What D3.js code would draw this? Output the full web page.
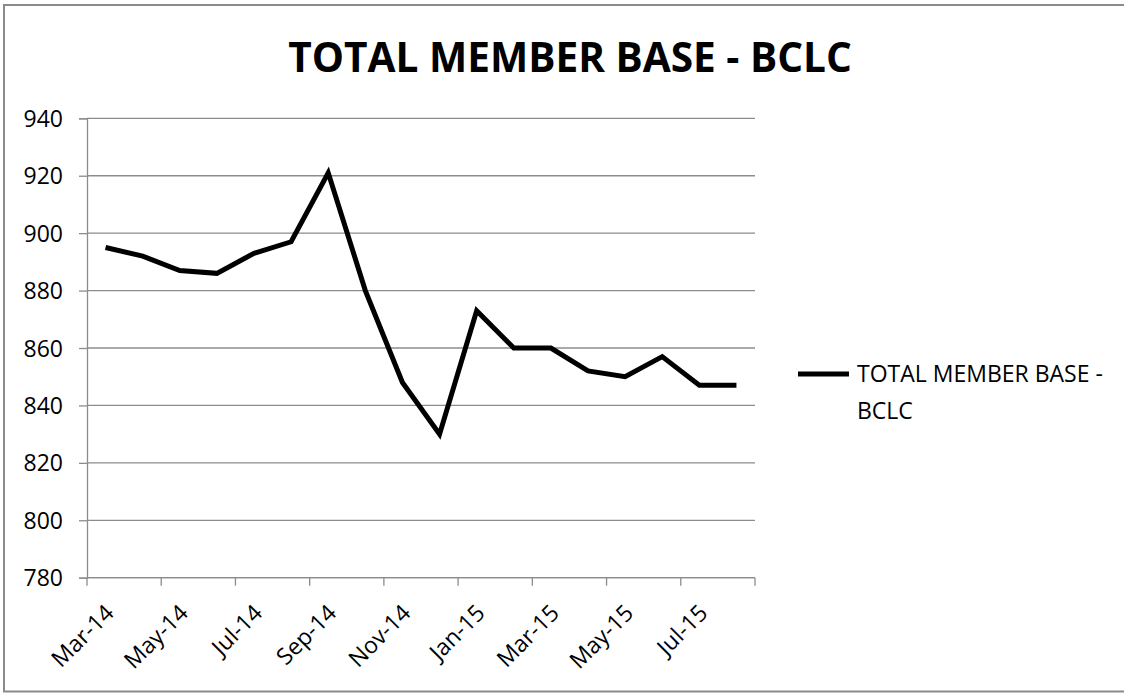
<!DOCTYPE html>
<html>
<head>
<meta charset="utf-8">
<script src="https://cdn.jsdelivr.net/npm/d3@7"></script>
<style>
  html, body { margin: 0; padding: 0; background: #fff; }
  svg { display: block; }
  text { font-family: "Open Sans", "Liberation Sans", sans-serif; fill: #000; }
</style>
</head>
<body>
<svg id="chart" width="1124" height="693"></svg>
<script>
const categories = ["Mar-14","Apr-14","May-14","Jun-14","Jul-14","Aug-14","Sep-14","Oct-14","Nov-14","Dec-14",
                    "Jan-15","Feb-15","Mar-15","Apr-15","May-15","Jun-15","Jul-15","Aug-15"];
const values = [895, 892, 887, 886, 893, 897, 921, 880, 848, 830, 873, 860, 860, 852, 850, 857, 847, 847];
const yTicks = [780, 800, 820, 840, 860, 880, 900, 920, 940];
const seriesName = "TOTAL MEMBER BASE - BCLC";
const titleText = "TOTAL MEMBER BASE - BCLC";

const svg = d3.select("#chart");
const W = 1124, H = 693;
const plot = {left: 87, right: 755, top: 118.3, bottom: 577.7};

// outer border
svg.append("rect").attr("x", 4).attr("y", 5).attr("width", W + 2).attr("height", H - 6.5)
  .attr("fill", "#fff").attr("stroke", "#8a8a8a").attr("stroke-width", 2);

const x = d3.scaleBand().domain(categories).range([plot.left, plot.right]).paddingInner(0).paddingOuter(0);
const y = d3.scaleLinear().domain([780, 940]).range([plot.bottom, plot.top]);

// gridlines
svg.append("g").selectAll("line").data(yTicks).join("line")
  .attr("x1", plot.left).attr("x2", plot.right)
  .attr("y1", d => y(d)).attr("y2", d => y(d))
  .attr("stroke", "#8c8c8c").attr("stroke-width", 1.3);

// y axis
const yAxis = svg.append("g").attr("transform", `translate(${plot.left},0)`)
  .call(d3.axisLeft(y).tickValues(yTicks).tickSize(8).tickPadding(16).tickFormat(d3.format("d")));
yAxis.select(".domain").attr("stroke", "#8c8c8c").attr("stroke-width", 1.3);
yAxis.selectAll(".tick line").attr("stroke", "#8c8c8c").attr("stroke-width", 1.3);
yAxis.selectAll(".tick text").style("font-size", "23px").attr("fill", "#000")
  .attr("font-family", "Open Sans").attr("dy", "0.35em");

// x axis: baseline
svg.append("line").attr("x1", plot.left).attr("x2", plot.right)
  .attr("y1", plot.bottom).attr("y2", plot.bottom)
  .attr("stroke", "#8c8c8c").attr("stroke-width", 1.3);
// tick marks every two categories at boundaries
const boundaryIdx = d3.range(0, categories.length + 1, 2);
svg.append("g").selectAll("line").data(boundaryIdx).join("line")
  .attr("x1", i => i < categories.length ? x(categories[i]) : plot.right)
  .attr("x2", i => i < categories.length ? x(categories[i]) : plot.right)
  .attr("y1", plot.bottom).attr("y2", plot.bottom + 8)
  .attr("stroke", "#8c8c8c").attr("stroke-width", 1.3);
// labels every two categories
const labelCats = categories.filter((c, i) => i % 2 === 0);
svg.append("g").selectAll("text").data(labelCats).join("text")
  .attr("transform", d => `translate(${x(d) + x.bandwidth() / 2 + 4},${plot.bottom + 31}) rotate(-45)`)
  .attr("text-anchor", "end").attr("dy", "0.35em")
  .style("font-size", "23px")
  .text(d => d);

// line
const line = d3.line().x((d, i) => x(categories[i]) + x.bandwidth() / 2).y(d => y(d));
svg.append("path").datum(values).attr("d", line)
  .attr("fill", "none").attr("stroke", "#000").attr("stroke-width", 5)
  .attr("stroke-linejoin", "miter").attr("stroke-linecap", "butt");

// title
const title = svg.append("text").attr("x", 570).attr("y", 72).attr("text-anchor", "middle")
  .style("font-size", "40px").style("font-weight", "bold").text(titleText);
const tw = title.node().getComputedTextLength();
title.style("font-size", (40 * 564 / tw) + "px");

// legend
svg.append("line").attr("x1", 798).attr("x2", 849).attr("y1", 374).attr("y2", 374)
  .attr("stroke", "#000").attr("stroke-width", 5);
const leg = svg.append("text").style("font-size", "23px");
leg.append("tspan").attr("x", 857).attr("y", 382).text("TOTAL MEMBER BASE -");
leg.append("tspan").attr("x", 857).attr("y", 419).text("BCLC");
</script>
</body>
</html>
